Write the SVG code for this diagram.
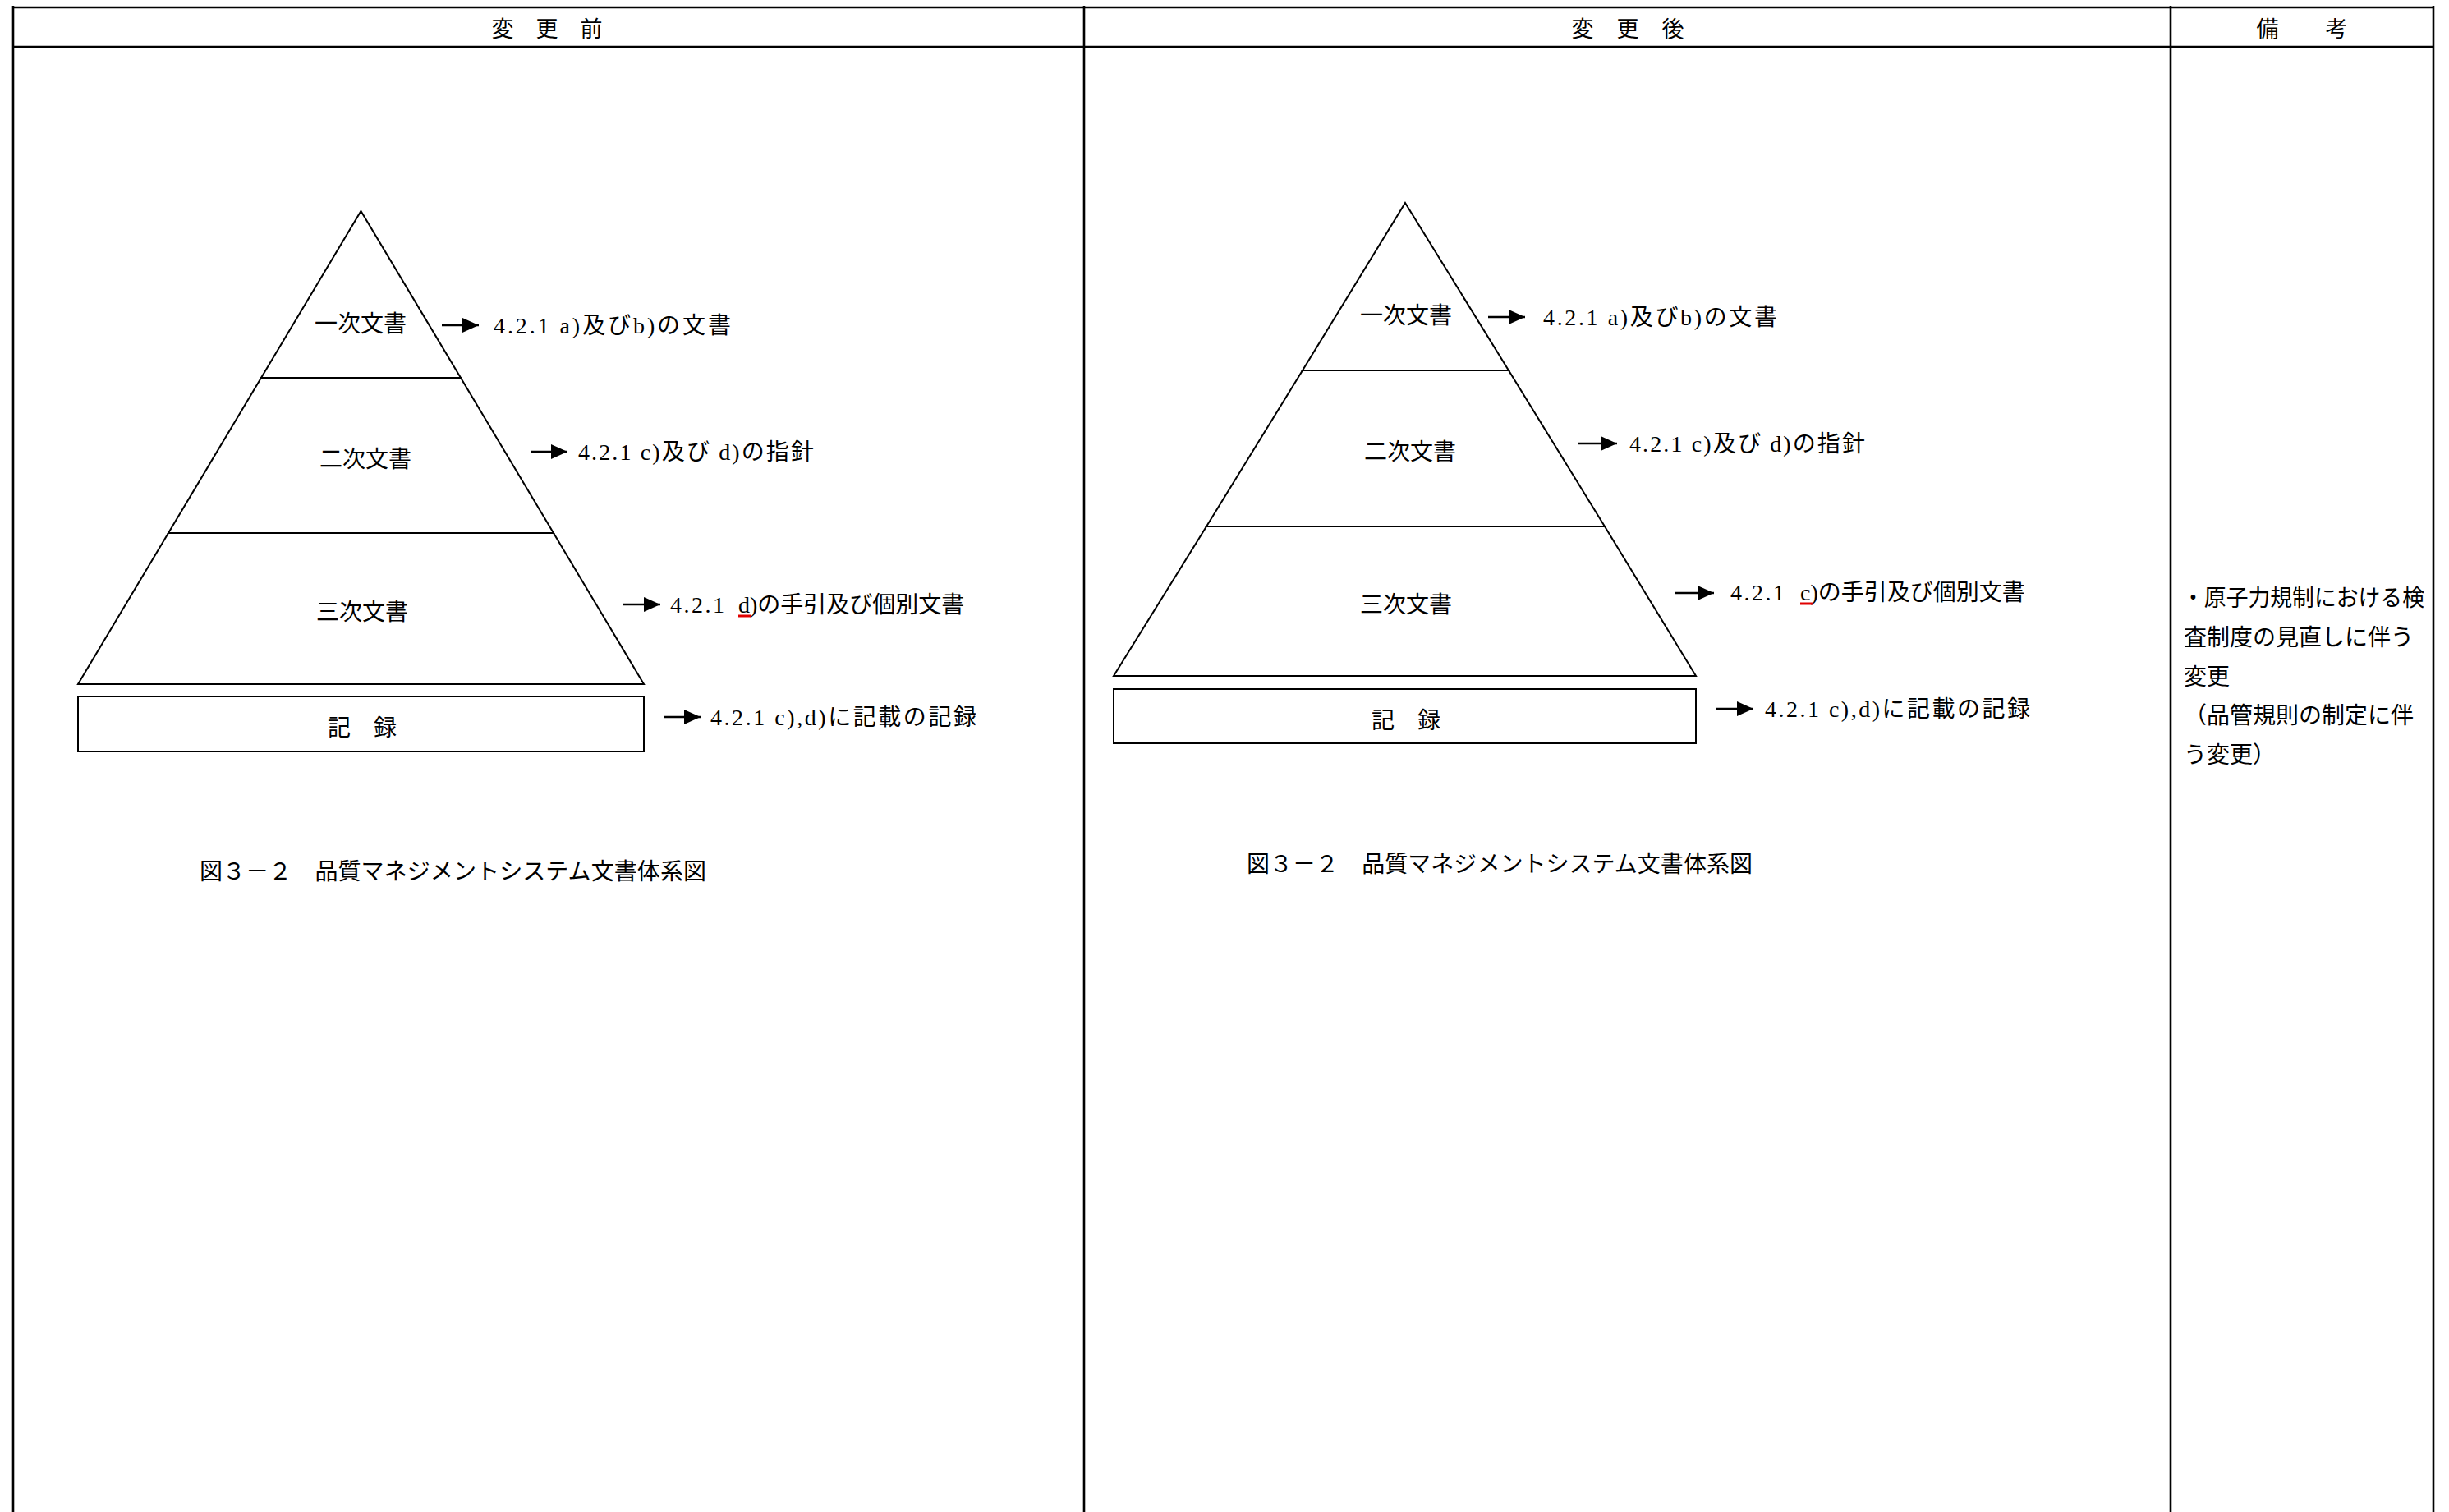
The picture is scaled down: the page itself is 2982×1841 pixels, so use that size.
<svg xmlns="http://www.w3.org/2000/svg" width="2982" height="1841" viewBox="0 0 2982 1841">
<style>
.tbl{stroke:#000;stroke-width:2.6;fill:none}
.shape{stroke:#000;stroke-width:2;fill:#fff}
.hd{font-family:"Noto Sans CJK JP",sans-serif;font-size:27px;fill:#000;text-anchor:middle;dominant-baseline:central}
.nm{font-family:"Liberation Serif","Noto Sans CJK JP",serif;font-size:28px;fill:#000;text-anchor:middle;dominant-baseline:central}
.lbl{font-family:"Liberation Serif","Noto Sans CJK JP",serif;font-size:28px;fill:#000;dominant-baseline:central}
.num{letter-spacing:2.5px}
.cap{font-family:"Liberation Serif","Noto Sans CJK JP",serif;font-size:28px;fill:#000;dominant-baseline:central}
.rm{font-family:"Noto Sans CJK JP",sans-serif;font-size:28px;fill:#000;dominant-baseline:central}
.arr{stroke:#000;stroke-width:2.6;fill:none}
.red{stroke:#e00000;stroke-width:3}
</style>
<defs>
<marker id="ah" markerUnits="userSpaceOnUse" markerWidth="20" markerHeight="18" refX="20" refY="9" orient="auto">
<path d="M0,0 L20,9 L0,18 Z" fill="#000"/>
</marker>
</defs>
<rect width="2982" height="1841" fill="#fff"/>

<g id="table">
<line class="tbl" x1="16" y1="9" x2="2963" y2="9"/>
<line class="tbl" x1="16" y1="57" x2="2963" y2="57"/>
<line class="tbl" x1="16" y1="7" x2="16" y2="1841"/>
<line class="tbl" x1="1320" y1="7" x2="1320" y2="1841"/>
<line class="tbl" x1="2643" y1="7" x2="2643" y2="1841"/>
<line class="tbl" x1="2963" y1="7" x2="2963" y2="1841"/>
<text class="hd" y="33"><tspan x="612">変</tspan><tspan x="666">更</tspan><tspan x="720">前</tspan></text>
<text class="hd" y="33"><tspan x="1927">変</tspan><tspan x="1982">更</tspan><tspan x="2037">後</tspan></text>
<text class="hd" y="33"><tspan x="2761">備</tspan><tspan x="2845">考</tspan></text>
</g>

<!-- Before (left) -->
<g id="before-layer1"><polygon class="shape" points="439.5,257 561,460 318,460"/><text class="nm" x="439" y="394">一次文書</text></g>
<g id="before-layer2"><polygon class="shape" points="318,460 561,460 674,649 205,649"/><text class="nm" x="445" y="559">二次文書</text></g>
<g id="before-layer3"><polygon class="shape" points="205,649 674,649 784,833 95,833"/><text class="nm" x="441" y="745">三次文書</text></g>
<g id="before-record"><rect class="shape" x="95" y="848" width="689" height="67"/><text class="nm" x="441" y="886">記　録</text></g>
<g id="before-label1"><text class="lbl" x="601" y="396" textLength="289" lengthAdjust="spacing">4.2.1 a)及びb)の文書</text></g>
<g id="before-label2"><text class="lbl" x="704" y="550" textLength="287" lengthAdjust="spacing">4.2.1 c)及び d)の指針</text></g>
<g id="before-label3"><text class="lbl" x="816" y="736"><tspan class="num">4.2.1 </tspan><tspan x="899">d)の手引及び個別文書</tspan></text><line class="red" x1="899" y1="750" x2="914" y2="750"/></g>
<g id="before-label4"><text class="lbl" x="865" y="873" textLength="324" lengthAdjust="spacing">4.2.1 c),d)に記載の記録</text></g>
<g id="before-caption"><text class="cap" x="243" y="1061" textLength="617" lengthAdjust="spacing">図３－２　品質マネジメントシステム文書体系図</text></g>

<!-- After (right) -->
<g id="after-layer1"><polygon class="shape" points="1711,247 1837,451 1586,451"/><text class="nm" x="1712" y="384">一次文書</text></g>
<g id="after-layer2"><polygon class="shape" points="1586,451 1837,451 1954,641 1469,641"/><text class="nm" x="1717" y="550">二次文書</text></g>
<g id="after-layer3"><polygon class="shape" points="1469,641 1954,641 2065,823 1356,823"/><text class="nm" x="1712" y="736">三次文書</text></g>
<g id="after-record"><rect class="shape" x="1356" y="839" width="709" height="66"/><text class="nm" x="1712" y="877">記　録</text></g>
<g id="after-label1"><text class="lbl" x="1879" y="386" textLength="285" lengthAdjust="spacing">4.2.1 a)及びb)の文書</text></g>
<g id="after-label2"><text class="lbl" x="1984" y="540" textLength="287" lengthAdjust="spacing">4.2.1 c)及び d)の指針</text></g>
<g id="after-label3"><text class="lbl" x="2107" y="721"><tspan class="num">4.2.1 </tspan><tspan x="2192">c)の手引及び個別文書</tspan></text><line class="red" x1="2192" y1="735" x2="2207" y2="735"/></g>
<g id="after-label4"><text class="lbl" x="2149" y="863" textLength="323" lengthAdjust="spacing">4.2.1 c),d)に記載の記録</text></g>
<g id="after-caption"><text class="cap" x="1518" y="1052" textLength="616" lengthAdjust="spacing">図３－２　品質マネジメントシステム文書体系図</text></g>

<!-- Remarks -->
<g id="remarks">
<text class="rm" x="2657" y="726" textLength="295" lengthAdjust="spacingAndGlyphs">・原子力規制における検</text>
<text class="rm" x="2659" y="774">査制度の見直しに伴う</text>
<text class="rm" x="2659" y="822">変更</text>
<text class="rm" x="2659" y="869">（品管規則の制定に伴</text>
<text class="rm" x="2659" y="917">う変更）</text>
</g>

<g id="connectors">
<line class="arr" x1="538" y1="396" x2="583" y2="396" marker-end="url(#ah)"/>
<line class="arr" x1="647" y1="550" x2="691" y2="550" marker-end="url(#ah)"/>
<line class="arr" x1="759" y1="736" x2="804" y2="736" marker-end="url(#ah)"/>
<line class="arr" x1="808" y1="873" x2="853" y2="873" marker-end="url(#ah)"/>
<line class="arr" x1="1812" y1="386" x2="1857" y2="386" marker-end="url(#ah)"/>
<line class="arr" x1="1921" y1="540" x2="1969" y2="540" marker-end="url(#ah)"/>
<line class="arr" x1="2039" y1="722" x2="2087" y2="722" marker-end="url(#ah)"/>
<line class="arr" x1="2090" y1="863" x2="2135" y2="863" marker-end="url(#ah)"/>
</g>
</svg>
